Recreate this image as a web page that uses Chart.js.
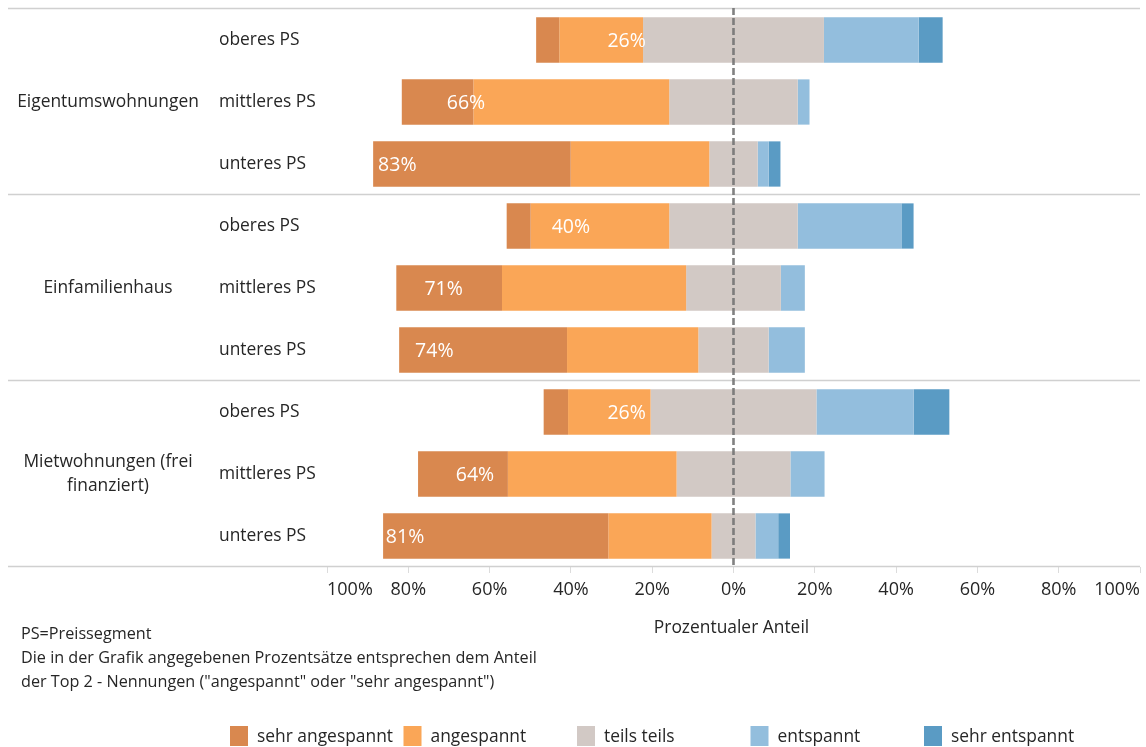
<!DOCTYPE html>
<html lang="de">
<head>
<meta charset="utf-8">
<title>Wohnungsmarkt – Anspannung nach Preissegment</title>
<script src="https://cdn.jsdelivr.net/npm/chart.js@4.4.1/dist/chart.umd.min.js"></script>
<style>
  html, body { margin: 0; padding: 0; background: #ffffff; }
  #wrap { position: relative; width: 1146px; height: 747px; }
  canvas { display: block; }
</style>
</head>
<body>
<div id="wrap"><canvas id="chart" width="1146" height="747"></canvas></div>
<script>
// Kategorien (je Wohnungsart drei Preissegmente)
const groups = ['Eigentumswohnungen', 'Einfamilienhaus', ['Mietwohnungen (frei', 'finanziert)']];
const categories = [
  'oberes PS', 'mittleres PS', 'unteres PS',
  'oberes PS', 'mittleres PS', 'unteres PS',
  'oberes PS', 'mittleres PS', 'unteres PS'
];

// Anteile in Prozent je Antwortkategorie
const sehrAngespannt = [5.7, 17.6, 48.6, 5.9, 26.0, 41.3, 6.0, 22.1, 55.4];
const angespannt     = [20.6, 48.2, 34.1, 34.1, 45.3, 32.3, 20.3, 41.5, 25.4];
const teilsTeils     = [44.5, 31.6, 11.9, 31.6, 23.3, 17.3, 40.8, 28.0, 10.8];
const entspannt      = [23.3, 2.9, 2.7, 25.5, 5.9, 8.9, 23.9, 8.4, 5.6];
const sehrEntspannt  = [5.9, 0, 2.9, 3.0, 0, 0, 8.8, 0, 2.9];

// Achsenbeschriftung
const tickValues = [-100, -80, -60, -40, -20, 0, 20, 40, 60, 80, 100];

const seriesNames = ['sehr angespannt', 'angespannt', 'teils teils', 'entspannt', 'sehr entspannt'];
const seriesColors = ['#D9884F', '#FAA657', '#D2C9C5', '#93BEDD', '#5A9BC4'];

const notes = [
  'PS=Preissegment',
  'Die in der Grafik angegebenen Prozentsätze entsprechen dem Anteil',
  'der Top 2 - Nennungen ("angespannt" oder "sehr angespannt")'
];

const FONT = '"Open Sans", "Noto Sans", sans-serif';
const TEXT = '#262626';

// Divergierende Balken: "teils teils" mittig um 0, negative Seite links
const half = teilsTeils.map(v => v / 2);
const dataSA = categories.map((_, i) => [-(half[i] + angespannt[i] + sehrAngespannt[i]), -(half[i] + angespannt[i])]);
const dataA  = categories.map((_, i) => [-(half[i] + angespannt[i]), -half[i]]);
const dataT  = categories.map((_, i) => [-half[i], half[i]]);
const dataE  = categories.map((_, i) => [half[i], half[i] + entspannt[i]]);
const dataSE = categories.map((_, i) => [half[i] + entspannt[i], half[i] + entspannt[i] + sehrEntspannt[i]]);
const top2 = categories.map((_, i) => sehrAngespannt[i] + angespannt[i]);

const seriesData = [dataSA, dataA, dataT, dataE, dataSE];

const overlay = {
  id: 'overlay',
  beforeDatasetsDraw(chart) {
    const { ctx, chartArea: ca, scales: { y } } = chart;
    ctx.save();
    // Trennlinien zwischen den Wohnungsarten
    ctx.strokeStyle = '#d0d0d0';
    ctx.lineWidth = 1.5;
    const bounds = [ca.top];
    for (let g = 1; g < groups.length; g++) {
      bounds.push((y.getPixelForValue(g * 3 - 1) + y.getPixelForValue(g * 3)) / 2);
    }
    bounds.push(ca.bottom);
    bounds.forEach(b => {
      ctx.beginPath();
      ctx.moveTo(8, Math.round(b) - 0.5);
      ctx.lineTo(1140, Math.round(b) - 0.5);
      ctx.stroke();
    });
    ctx.restore();
  },
  afterDatasetsDraw(chart) {
    const { ctx, chartArea: ca, scales: { x, y } } = chart;
    ctx.save();
    // Nulllinie gestrichelt
    const x0 = x.getPixelForValue(0);
    ctx.strokeStyle = 'rgba(115,115,115,0.9)';
    ctx.lineWidth = 2.6;
    ctx.setLineDash([7, 3]);
    ctx.beginPath();
    ctx.moveTo(x0, ca.top - 1);
    ctx.lineTo(x0, ca.bottom - 1);
    ctx.stroke();
    ctx.setLineDash([]);

    // Top-2-Anteile
    ctx.fillStyle = '#ffffff';
    ctx.font = '19.5px ' + FONT;
    ctx.textAlign = 'center';
    ctx.textBaseline = 'middle';
    top2.forEach((v, i) => {
      ctx.fillText(Math.round(v) + '%', x.getPixelForValue(-v), y.getPixelForValue(i) + 1);
    });

    // Preissegmente
    ctx.fillStyle = TEXT;
    ctx.font = '17.4px ' + FONT;
    ctx.textAlign = 'left';
    categories.forEach((c, i) => {
      ctx.fillText(c, 219, y.getPixelForValue(i));
    });

    // Wohnungsarten
    ctx.textAlign = 'center';
    groups.forEach((g, gi) => {
      const cy = y.getPixelForValue(gi * 3 + 1);
      const lines = Array.isArray(g) ? g : [g];
      const lh = 24;
      lines.forEach((ln, li) => {
        ctx.fillText(ln, 108, cy + (li - (lines.length - 1) / 2) * lh);
      });
    });

    // Achsentitel
    ctx.fillText('Prozentualer Anteil', (ca.left + ca.right) / 2 - 2, 628);

    // Legende
    ctx.textAlign = 'left';
    chart.data.datasets.forEach((ds, i) => {
      const bx = 230 + i * 173.5;
      ctx.fillStyle = ds.backgroundColor;
      ctx.fillRect(bx, 726, 18, 20);
      ctx.fillStyle = TEXT;
      ctx.fillText(ds.label, bx + 27, 737);
    });

    // Hinweise
    ctx.font = '16.2px ' + FONT;
    notes.forEach((n, i) => ctx.fillText(n, 21, 634 + i * 24));
    ctx.restore();
  }
};

new Chart(document.getElementById('chart'), {
  type: 'bar',
  data: {
    labels: categories,
    datasets: seriesNames.map((name, i) => ({
      label: name,
      data: seriesData[i],
      backgroundColor: seriesColors[i],
      borderWidth: 0,
      grouped: false,
      categoryPercentage: 1,
      barPercentage: 0.73
    }))
  },
  options: {
    indexAxis: 'y',
    responsive: false,
    devicePixelRatio: 1,
    animation: false,
    layout: { padding: { left: 327, right: 5, top: 9, bottom: 135 } },
    plugins: {
      legend: { display: false },
      tooltip: { enabled: false }
    },
    scales: {
      y: { display: false },
      x: {
        min: -100,
        max: 100,
        afterBuildTicks(scale) { scale.ticks = tickValues.map(v => ({ value: v })); },
        afterFit(scale) { scale.height = 45; },
        border: { display: false },
        grid: { drawOnChartArea: false, tickLength: 6, color: '#dcdcdc', lineWidth: 1 },
        ticks: {
          align: 'inner',
          padding: 6,
          color: TEXT,
          font: { family: FONT, size: 18 },
          callback: v => Math.abs(v) + '%'
        }
      }
    }
  },
  plugins: [overlay]
});
</script>
</body>
</html>
